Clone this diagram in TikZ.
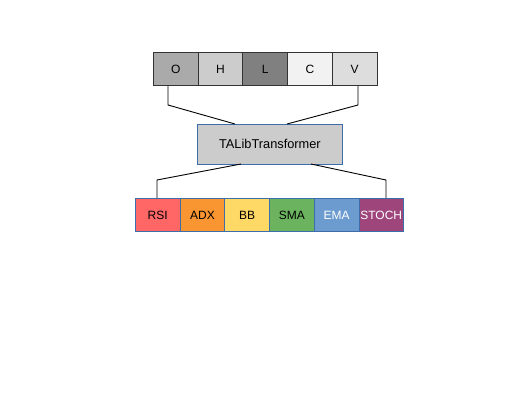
\documentclass[tikz,border=0pt]{standalone}
\usepackage{fontspec}
\setmainfont{Liberation Sans}
\definecolor{cO}{HTML}{AAAAAA}
\definecolor{cH}{HTML}{CCCCCC}
\definecolor{cL}{HTML}{808080}
\definecolor{cC}{HTML}{F2F2F2}
\definecolor{cV}{HTML}{DDDDDD}
\definecolor{edgeblue}{HTML}{3C6EAA}
\definecolor{cRSI}{HTML}{FF6666}
\definecolor{cADX}{HTML}{FA9632}
\definecolor{cBB}{HTML}{FFD966}
\definecolor{cSMA}{HTML}{6BB35F}
\definecolor{cEMA}{HTML}{6C9BD0}
\definecolor{cSTOCH}{HTML}{9E457C}
\tikzset{
  ohlc/.style={draw=black!80,line width=0.8pt,minimum width=44.7pt,minimum height=33pt,inner sep=0pt,anchor=north west,font=\fontsize{12}{14}\selectfont},
  indic/.style={draw=edgeblue,line width=0.8pt,minimum width=44.7pt,minimum height=33pt,inner sep=0pt,anchor=north west,font=\fontsize{12}{14}\selectfont},
  link/.style={black,line width=0.9pt}
}
\begin{document}
\begin{tikzpicture}[x=1pt,y=-1pt]
\useasboundingbox (0,0) rectangle (528,408);
% Входные данные
\foreach \n/\t/\c [count=\i from 0] in {o/O/cO,h/H/cH,l/L/cL,c/C/cC,v/V/cV}
    \node[ohlc,fill=\c] (\n) at (153+44.7*\i,52) {\t};

% Преобразователь
\node[draw=edgeblue,line width=0.8pt,fill=cH,minimum width=145pt,minimum height=40pt,inner sep=0pt,anchor=north west,font=\fontsize{12.8}{14}\selectfont] (tal) at (197,124) {TALibTransformer};

% Индикаторы
\foreach \n/\c/\tc [count=\i from 0] in {RSI/cRSI/black,ADX/cADX/black,BB/cBB/black,SMA/cSMA/black,EMA/cEMA/white,STOCH/cSTOCH/white}
    \node[indic,fill=\c,text=\tc] (\n) at (135+44.7*\i,198) {\n};

% Связи
\coordinate (ob) at (168,105);
\coordinate (vb) at (358,105);
\coordinate (tl) at (235,124);
\coordinate (tr) at (287,124);
\draw[link] (o.south -| ob) -- (ob) -- (tl);
\draw[link] (v.south -| vb) -- (vb) -- (tr);
\coordinate (bl) at (241,164);
\coordinate (br) at (311,164);
\coordinate (rb) at (157,180);
\coordinate (sb) at (386,180);
\draw[link] (bl) -- (rb) -- (RSI.north -| rb);
\draw[link] (br) -- (sb) -- (STOCH.north -| sb);
\end{tikzpicture}
\end{document}
